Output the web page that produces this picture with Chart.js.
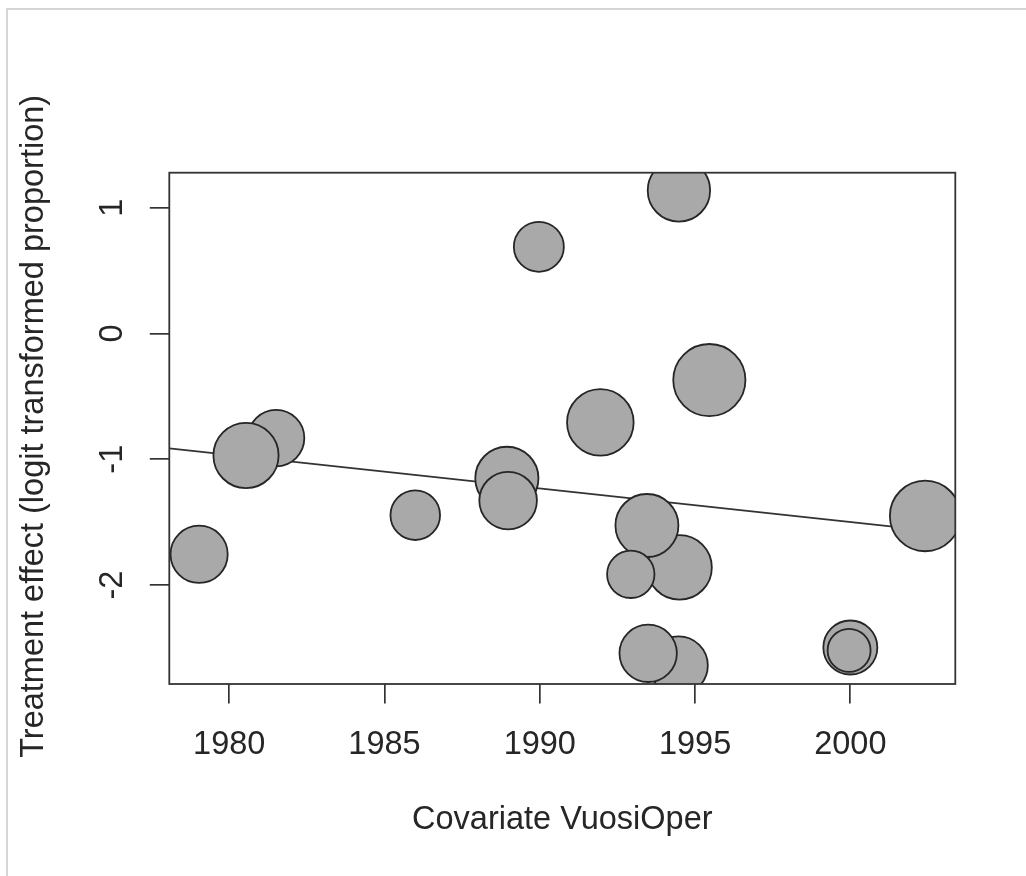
<!DOCTYPE html>
<html>
<head>
<meta charset="utf-8">
<script src="https://cdn.jsdelivr.net/npm/chart.js@4/dist/chart.umd.min.js"></script>
<style>
  body { margin: 0; background: #fff; }
  #frame {
    position: absolute; left: 6px; top: 8px; right: 0; bottom: 0;
    border-top: 2px solid #d6d6d6; border-left: 2px solid #d6d6d6;
  }
  canvas { position: absolute; left: 0; top: 0; }
</style>
</head>
<body>
<div id="frame"></div>
<canvas id="myChart" width="1026" height="876"></canvas>
<script>
// studies: year of operation, logit effect, bubble radius (weight)
const years   = [1979.03, 1981.51, 1980.54, 1985.99, 1988.94, 1988.98, 1989.97, 1991.95, 1995.46,
                 1994.50, 1993.45, 1992.93, 1994.47, 1993.49, 1994.48, 2000.00, 1999.96, 2002.41];
const effects = [-1.756, -0.832, -0.970, -1.445, -1.152, -1.329, 0.689, -0.707, -0.371,
                 -1.860, -1.527, -1.915, -2.640, -2.543, 1.137, -2.497, -2.520, -1.451];
const weights = [28.6, 28.2, 32.6, 24.8, 31.6, 28.8, 25.0, 33.3, 36.1,
                 32.3, 31.5, 23.7, 29.2, 28.7, 31.2, 27.0, 21.5, 35.3];

// fitted meta-regression line (read at the two plot edges)
const fitX = [1978.07, 2003.38];
const fitY = [-0.914, -1.589];

const xTicks = [1980, 1985, 1990, 1995, 2000];
const yTicks = [-2, -1, 0, 1];

const xTitle = "Covariate VuosiOper";
const yTitle = "Treatment effect (logit transformed proportion)";

const FONT = '32.5px "Liberation Sans", Arial, sans-serif';
const INK = "#262626";

const bubbles = years.map((x, i) => ({ x: x, y: effects[i], r: weights[i] }));
const fitLine = fitX.map((x, i) => ({ x: x, y: fitY[i] }));

// R-style box, rotated y labels and axis titles
const rPlotLook = {
  id: "rPlotLook",
  afterDraw(chart) {
    const ctx = chart.ctx;
    const a = chart.chartArea;
    const xs = chart.scales.x;
    const ys = chart.scales.y;
    ctx.save();
    ctx.strokeStyle = "#333";
    ctx.lineWidth = 1.8;
    ctx.strokeRect(a.left, a.top, a.right - a.left, a.bottom - a.top);

    ctx.fillStyle = INK;
    ctx.font = FONT;
    ctx.textAlign = "center";
    ctx.textBaseline = "alphabetic";
    xTicks.forEach(t => ctx.fillText(String(t), xs.getPixelForValue(t), 754));

    yTicks.forEach(t => {
      ctx.save();
      ctx.translate(122, ys.getPixelForValue(t));
      ctx.rotate(-Math.PI / 2);
      ctx.fillText(String(t), 0, 0);
      ctx.restore();
    });

    ctx.fillText(xTitle, (a.left + a.right) / 2, 829);

    ctx.save();
    ctx.translate(43, (a.top + a.bottom) / 2 - 2);
    ctx.rotate(-Math.PI / 2);
    ctx.fillText(yTitle, 0, 0);
    ctx.restore();
    ctx.restore();
  }
};

const ctx = document.getElementById("myChart");
const myChart = new Chart(ctx, {
  type: "bubble",
  data: {
    datasets: [
      {
        label: "studies",
        data: bubbles,
        backgroundColor: "#a9a9a9",
        borderColor: "#262626",
        borderWidth: 1.8,
        clip: 0,
        order: 1,
      },
      {
        type: "line",
        label: "fit",
        data: fitLine,
        borderColor: "#333",
        borderWidth: 1.7,
        pointRadius: 0,
        fill: false,
        clip: 0,
        order: 2,
      },
    ],
  },
  options: {
    responsive: false,
    animation: false,
    events: [],
    layout: { padding: { top: 172.7, right: 70.7, left: 0, bottom: 0 } },
    plugins: { legend: { display: false }, tooltip: { enabled: false } },
    scales: {
      x: {
        type: "linear",
        min: 1978.07,
        max: 2003.38,
        afterFit: s => { s.height = 192; },
        ticks: { stepSize: 5, includeBounds: false, display: false },
        grid: { drawOnChartArea: false, drawTicks: true, tickLength: 19.5, color: "#333", lineWidth: 1.7 },
        border: { display: false },
      },
      y: {
        type: "linear",
        min: -2.787,
        max: 1.278,
        afterFit: s => { s.width = 169.3; },
        ticks: { stepSize: 1, includeBounds: false, display: false },
        grid: { drawOnChartArea: false, drawTicks: true, tickLength: 19.5, color: "#333", lineWidth: 1.7 },
        border: { display: false },
      },
    },
  },
  plugins: [rPlotLook],
});
</script>
</body>
</html>
